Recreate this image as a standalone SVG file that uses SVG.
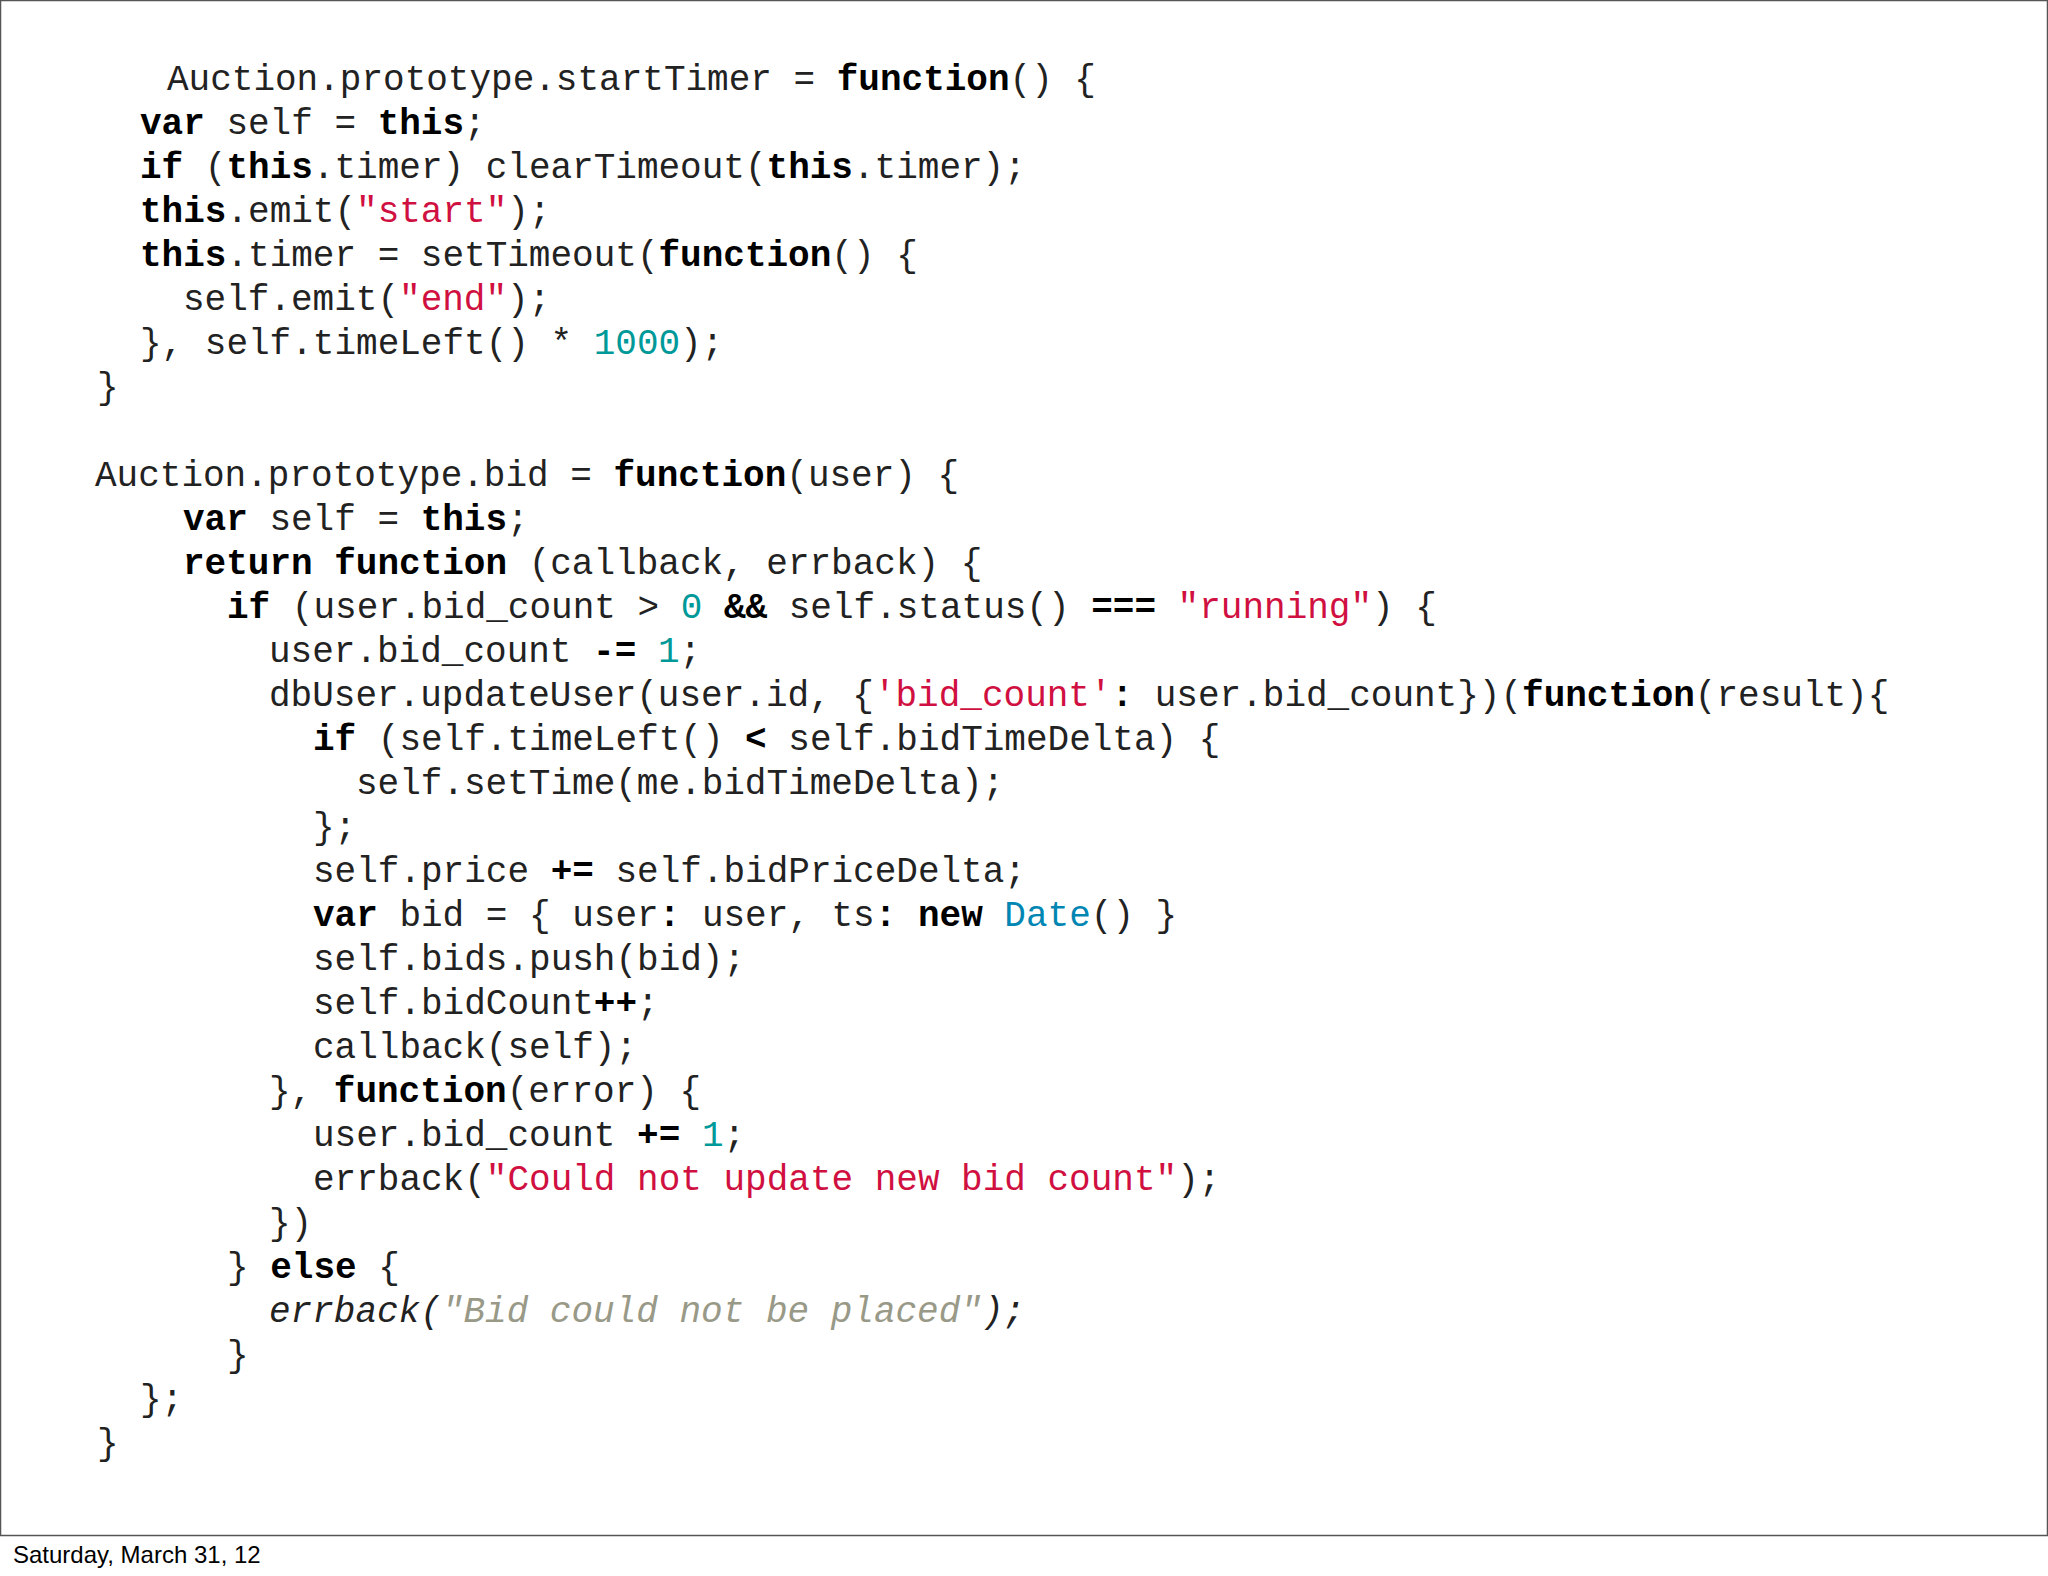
<svg xmlns="http://www.w3.org/2000/svg" width="2048" height="1576" viewBox="0 0 2048 1576">
<style>
.c{font-family:"Liberation Mono","Courier New",monospace;font-size:36px;fill:#222;white-space:pre}
.k{font-weight:bold;fill:#000}
.s{fill:#d01040}
.n{fill:#009999}
.t{fill:#0086b3}
.e{font-style:italic;fill:#999988}
.i{font-style:italic;fill:#222}
.f{font-family:"Liberation Sans",Arial,sans-serif;font-size:24px;fill:#000}
</style>
<rect x="0" y="0" width="2048" height="1576" fill="#fff"/>
<rect x="0.5" y="0.5" width="2047" height="1535" fill="none" stroke="#555" stroke-width="1.5"/>
<g id="code" class="c" xml:space="preserve">
<text x="167" y="90">Auction.prototype.startTimer = <tspan class="k">function</tspan>() {</text>
<text x="140" y="134"><tspan class="k">var</tspan> self = <tspan class="k">this</tspan>;</text>
<text x="140" y="178"><tspan class="k">if</tspan> (<tspan class="k">this</tspan>.timer) clearTimeout(<tspan class="k">this</tspan>.timer);</text>
<text x="140" y="222"><tspan class="k">this</tspan>.emit(<tspan class="s">"start"</tspan>);</text>
<text x="140" y="266"><tspan class="k">this</tspan>.timer = setTimeout(<tspan class="k">function</tspan>() {</text>
<text x="183" y="310">self.emit(<tspan class="s">"end"</tspan>);</text>
<text x="140" y="354">}, self.timeLeft() * <tspan class="n">1000</tspan>);</text>
<text x="97" y="398">}</text>
<text x="95" y="486">Auction.prototype.bid = <tspan class="k">function</tspan>(user) {</text>
<text x="183" y="530"><tspan class="k">var</tspan> self = <tspan class="k">this</tspan>;</text>
<text x="183" y="574"><tspan class="k">return</tspan> <tspan class="k">function</tspan> (callback, errback) {</text>
<text x="227" y="618"><tspan class="k">if</tspan> (user.bid_count &gt; <tspan class="n">0</tspan> <tspan class="k">&amp;&amp;</tspan> self.status() <tspan class="k">===</tspan> <tspan class="s">"running"</tspan>) {</text>
<text x="269" y="662">user.bid_count <tspan class="k">-=</tspan> <tspan class="n">1</tspan>;</text>
<text x="269" y="706">dbUser.updateUser(user.id, {<tspan class="s">'bid_count'</tspan><tspan class="k">:</tspan> user.bid_count})(<tspan class="k">function</tspan>(result){</text>
<text x="313" y="750"><tspan class="k">if</tspan> (self.timeLeft() <tspan class="k">&lt;</tspan> self.bidTimeDelta) {</text>
<text x="356" y="794">self.setTime(me.bidTimeDelta);</text>
<text x="313" y="838">};</text>
<text x="313" y="882">self.price <tspan class="k">+=</tspan> self.bidPriceDelta;</text>
<text x="313" y="926"><tspan class="k">var</tspan> bid = { user<tspan class="k">:</tspan> user, ts<tspan class="k">:</tspan> <tspan class="k">new</tspan> <tspan class="t">Date</tspan>() }</text>
<text x="313" y="970">self.bids.push(bid);</text>
<text x="313" y="1014">self.bidCount<tspan class="k">++</tspan>;</text>
<text x="313" y="1058">callback(self);</text>
<text x="269" y="1102">}, <tspan class="k">function</tspan>(error) {</text>
<text x="313" y="1146">user.bid_count <tspan class="k">+=</tspan> <tspan class="n">1</tspan>;</text>
<text x="313" y="1190">errback(<tspan class="s">"Could not update new bid count"</tspan>);</text>
<text x="269" y="1234">})</text>
<text x="227" y="1278">} <tspan class="k">else</tspan> {</text>
<text x="269" y="1322"><tspan class="i">errback(</tspan><tspan class="e">"Bid could not be placed"</tspan><tspan class="i">);</tspan></text>
<text x="227" y="1366">}</text>
<text x="140" y="1410">};</text>
<text x="97" y="1454">}</text>
</g>
<text class="f" x="13" y="1563">Saturday, March 31, 12</text>
</svg>
